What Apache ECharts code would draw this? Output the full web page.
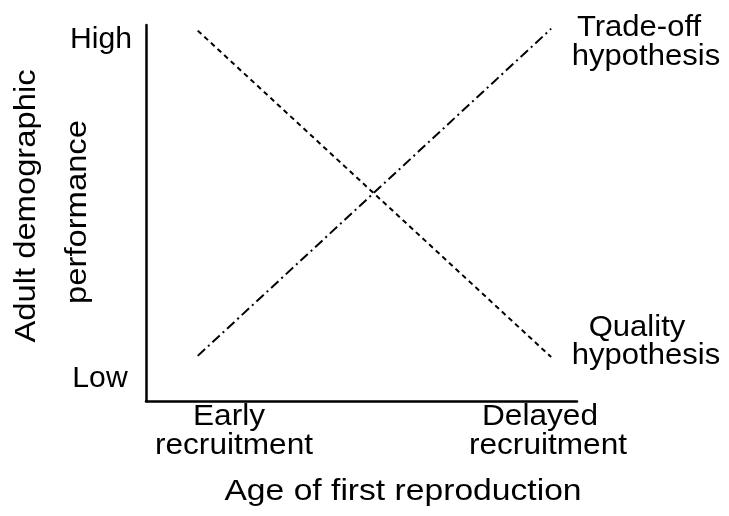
<!DOCTYPE html>
<html>
<head>
<meta charset="utf-8">
<script src="https://cdn.jsdelivr.net/npm/echarts@6/dist/echarts.min.js"></script>
<style>html,body{margin:0;padding:0;background:#fff;}#c{width:729px;height:516px;}</style>
</head>
<body>
<div id="c"></div>
<script>
// Data (relative scale 0..1)
const ageOfFirstReproduction = [0.12, 0.94];
const qualityHypothesis = [0.985, 0.117];
const tradeOffHypothesis = [0.12, 0.99];
const yTickLabels = ['Low', 'High'];
const xTickLabels = [['Early', 'recruitment'], ['Delayed', 'recruitment']];

const FONT = '29px "Liberation Sans", Arial, sans-serif';
function txt(text, x, y, sx, extra) {
  return Object.assign({
    type: 'text', x: x, y: y, scaleX: sx, silent: true,
    style: { text: text, font: FONT, fill: '#000', textAlign: 'center', textVerticalAlign: 'middle' }
  }, extra || {});
}

const chart = echarts.init(document.getElementById('c'), null, { renderer: 'canvas' });
chart.setOption({
  backgroundColor: '#fff',
  animation: false,
  grid: { left: 146, top: 25, right: 152, bottom: 115 },
  xAxis: {
    type: 'value', min: 0, max: 1,
    axisLine: { show: true, onZero: false, lineStyle: { color: '#000', width: 2.5 } },
    axisTick: { show: false }, axisLabel: { show: false }, splitLine: { show: false }
  },
  yAxis: {
    type: 'value', min: 0, max: 1,
    axisLine: { show: true, onZero: false, lineStyle: { color: '#000', width: 2.5 } },
    axisTick: { show: false }, axisLabel: { show: false }, splitLine: { show: false }
  },
  series: [
    {
      name: 'Quality hypothesis', type: 'line', symbol: 'none',
      data: ageOfFirstReproduction.map((x, i) => [x, qualityHypothesis[i]]),
      lineStyle: { color: '#000', width: 2, type: [5, 4] }
    },
    {
      name: 'Trade-off hypothesis', type: 'line', symbol: 'none',
      data: ageOfFirstReproduction.map((x, i) => [x, tradeOffHypothesis[i]]),
      lineStyle: { color: '#000', width: 2, type: [10, 4, 2, 4] }
    }
  ],
  graphic: [
    txt(yTickLabels[1], 101, 40, 1.04),
    txt(yTickLabels[0], 100, 379, 1.04),
    txt('Adult demographic', 27, 206, 1.13, { rotation: Math.PI / 2 }),
    txt('performance', 78, 212, 1.13, { rotation: Math.PI / 2 }),
    txt(xTickLabels[0][0], 229, 417, 1.09),
    txt(xTickLabels[0][1], 234, 446, 1.09),
    txt(xTickLabels[1][0], 540, 417, 1.09),
    txt(xTickLabels[1][1], 548, 446, 1.09),
    txt('Age of first reproduction', 403, 492, 1.16),
    txt('Trade-off', 639, 28, 1.07),
    txt('hypothesis', 646, 57, 1.07),
    txt('Quality', 637, 328, 1.07),
    txt('hypothesis', 646, 356, 1.07)
  ]
});
</script>
</body>
</html>
